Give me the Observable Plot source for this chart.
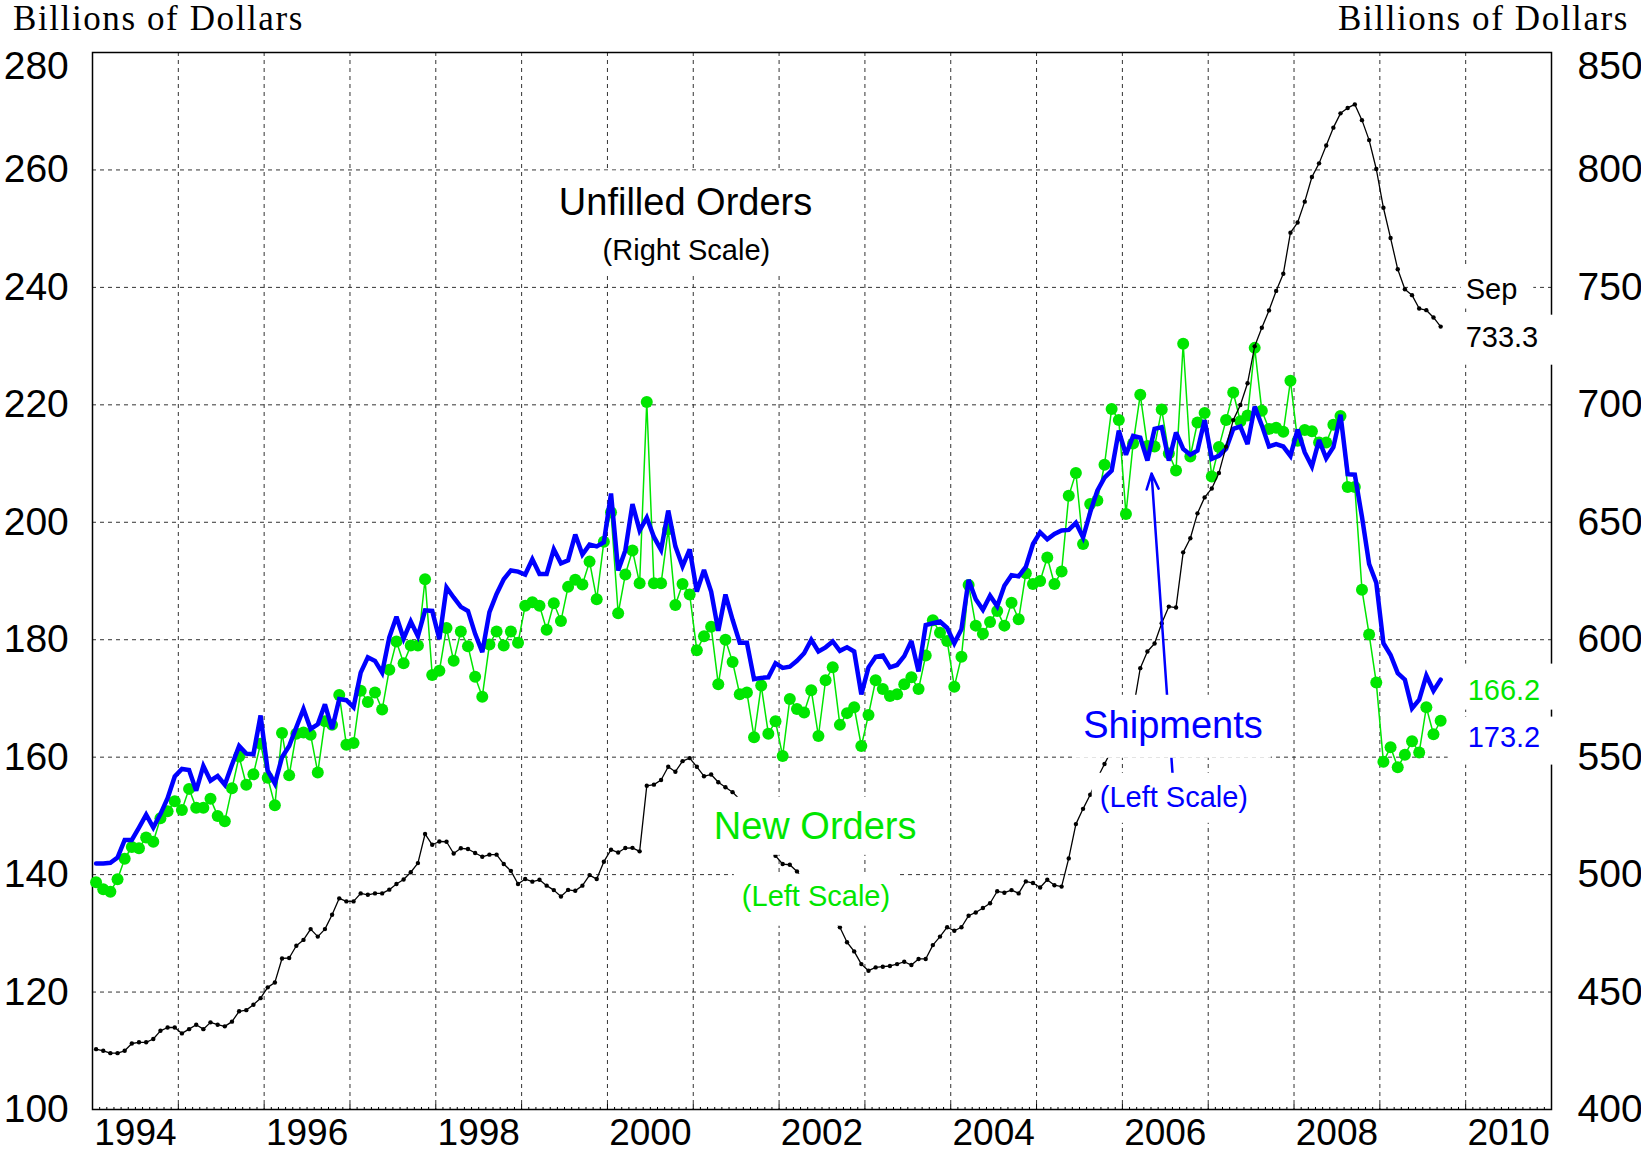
<!DOCTYPE html>
<html><head><meta charset="utf-8">
<script src="https://cdn.jsdelivr.net/npm/d3@7"></script>
<script src="https://cdn.jsdelivr.net/npm/@observablehq/plot@0.6"></script>
<style>
html, body { margin:0; padding:0; background:#fff; }
body { width:1641px; height:1156px; overflow:hidden; }
#header { position:relative; height:44px; font-family:"Liberation Serif","Times New Roman",serif; font-size:35px; color:#000; }
#header span { position:absolute; top:-1px; line-height:40px; letter-spacing:1.6px; white-space:nowrap; }
#hl { left:13px; } #hr { right:12px; }
svg { display:block; }
</style></head>
<body>
<div id="header"><span id="hl">Billions of Dollars</span><span id="hr">Billions of Dollars</span></div>
<div id="chart"></div>
<script>
// Monthly data, Jan 1994 - Sep 2009
const startYear = 1994;

// Shipments (left scale, billions of dollars)
const shipments = [
  141.9,141.9,142.0,142.9,145.9,145.9,148.0,150.2,148.0,150.3,153.0,156.7,
  158.0,157.8,154.3,158.5,156.0,156.8,155.3,158.7,161.9,160.6,160.5,167.1,
  157.7,155.5,160.0,161.9,165.1,168.2,164.8,165.6,169.0,164.8,169.9,169.7,
  168.5,174.4,177.0,176.4,174.4,180.4,183.9,180.2,183.1,180.6,185.0,184.9,
  180.1,188.9,187.2,185.6,184.9,181.0,177.9,184.7,187.8,190.3,191.8,191.6,
  191.1,193.7,191.2,191.2,195.4,193.0,193.5,197.9,194.5,196.2,195.9,196.6,
  204.9,191.8,195.2,203.1,198.6,200.8,197.5,195.3,202.0,195.9,192.5,195.4,
  188.2,191.9,188.2,181.5,187.7,183.4,179.5,179.5,173.3,173.5,173.6,176.0,
  175.2,175.4,176.4,177.7,180.0,178.0,178.7,179.7,178.1,178.7,178.0,170.7,
  175.3,177.1,177.3,175.3,175.7,177.2,179.8,174.6,182.5,182.8,183.1,182.0,
  179.4,181.8,190.2,186.9,185.1,187.5,185.7,189.2,191.0,190.8,192.4,196.3,
  198.3,197.1,198.0,198.6,198.7,199.9,197.4,201.7,205.4,207.6,208.8,215.6,
  211.5,214.7,214.4,210.5,215.9,216.2,210.5,215.3,212.5,211.5,212.2,217.4,
  210.8,211.3,212.5,215.9,216.3,213.3,219.7,216.5,212.9,213.3,212.9,211.3,
  215.8,211.9,209.5,214.0,210.9,212.8,218.3,208.2,208.1,200.9,192.9,189.7,
  179.4,177.4,174.3,173.2,168.3,169.8,173.9,171.3,173.2
];

// New orders (left scale)
const newOrders = [
  138.7,137.5,137.1,139.2,142.7,144.7,144.5,146.3,145.6,149.6,150.8,152.5,
  151.0,154.6,151.4,151.4,152.9,150.0,149.1,154.7,160.1,155.3,157.1,162.3,
  156.5,151.8,164.1,156.9,164.0,164.2,163.8,157.4,166.1,165.5,170.6,162.1,
  162.4,171.3,169.4,171.0,168.1,174.9,179.7,176.0,179.0,179.0,190.3,174.0,
  174.7,182.0,176.4,181.4,178.9,173.7,170.3,179.2,181.4,179.0,181.4,179.5,
  185.8,186.4,185.8,181.7,186.2,183.2,189.0,190.2,189.4,193.3,186.9,196.7,
  201.7,184.5,191.1,195.2,189.6,220.5,189.6,189.6,198.8,185.9,189.5,187.7,
  178.2,180.6,182.2,172.4,180.0,176.2,170.7,171.0,163.4,172.2,164.0,166.1,
  160.2,169.9,168.2,167.6,171.4,163.6,173.1,175.3,165.5,167.5,168.5,161.9,
  167.2,173.1,171.6,170.4,170.7,172.4,173.6,171.6,177.3,183.3,181.2,179.8,
  172.0,177.1,189.3,182.4,181.0,183.0,184.9,182.4,186.3,183.5,191.3,189.5,
  190.0,194.0,189.5,191.6,204.5,208.4,196.3,203.1,203.7,209.8,219.3,217.4,
  201.4,213.4,221.7,213.0,212.9,219.2,211.7,208.8,230.4,211.2,217.0,218.6,
  207.8,212.8,217.4,222.1,217.2,218.2,229.7,219.0,215.9,216.1,215.4,224.1,
  213.9,215.7,215.5,213.6,213.6,216.6,218.1,206.0,206.0,188.5,180.9,172.7,
  159.2,161.7,158.3,160.4,162.7,160.8,168.5,163.9,166.2
];

// Unfilled orders (right scale)
const unfilledOrders = [
  425.7,425.0,424.0,424.0,425.0,428.1,428.6,428.6,430.0,433.5,434.9,434.9,
  432.4,434.2,436.1,434.2,437.1,436.1,435.4,437.4,441.8,442.3,444.6,447.4,
  452.0,454.1,464.3,464.5,469.7,472.2,476.8,473.6,476.8,482.9,489.9,488.6,
  488.6,492.0,491.4,492.0,492.0,493.6,496.0,497.9,501.0,504.9,517.3,512.7,
  514.1,514.0,509.0,511.2,510.9,509.2,507.6,508.5,508.5,504.5,501.6,496.0,
  498.1,497.0,497.8,495.3,493.4,490.7,493.5,493.1,495.3,499.8,498.1,505.5,
  510.6,509.4,511.3,511.4,509.9,537.8,538.3,540.3,545.9,543.8,548.3,549.6,
  545.9,541.9,542.6,539.3,537.2,535.1,532.0,528.0,523.0,517.0,512.0,508.0,
  504.5,504.2,501.3,497.5,492.0,489.0,484.5,481.0,477.6,471.2,467.3,461.9,
  459.1,460.5,460.8,461.1,461.9,462.9,461.5,464.1,464.1,470.0,473.6,477.6,
  476.1,477.6,482.5,483.9,485.8,487.8,492.9,492.3,493.4,492.0,497.1,496.4,
  494.5,497.8,495.5,494.9,506.9,521.5,528.0,534.0,541.0,547.1,553.0,558.0,
  564.0,570.0,587.9,595.0,598.4,607.0,614.1,613.7,637.2,643.2,653.8,660.6,
  664.4,671.0,682.2,693.5,699.9,709.2,724.9,732.8,740.2,748.5,755.8,773.3,
  777.6,786.5,797.0,802.8,810.4,818.0,824.1,826.4,827.9,821.2,812.7,800.4,
  783.9,771.0,757.7,749.2,746.7,741.0,740.3,737.2,733.3
];

const leftTicks = [100,120,140,160,180,200,220,240,260,280];
const rightTicks = [400,450,500,550,600,650,700,750,800,850];
const yearLabels = [1994,1996,1998,2000,2002,2004,2006,2008,2010];

const GREEN = "#00e600", BLUE = "#0000ff", BLACK = "#000000";
const L0 = 100, L1 = 280, R0 = 400, R1 = 850;
const toLeft = u => L0 + (u - R0) * (L1 - L0) / (R1 - R0);

const rows = shipments.map((s, i) => ({
  t: startYear + (i + 0.5) / 12,
  ship: s,
  orders: newOrders[i],
  unfilled: toLeft(unfilledOrders[i])
}));

const W = 1641, H = 1112, mL = 92, mR = 90, mT = 8, mB = 47;
const ppu = (H - mT - mB) / (L1 - L0);
const x0 = 1994, x1 = 2011;

const months = d3.range(0, (x1 - x0) * 12 + 1).map(k => ({k, v: x0 + k / 12}));
const gridYears = d3.range(x0 + 1, x1);

const boxed = [];
function label(id, x, y, text, opts, pad) {
  boxed.push({id, pad});
  return Plot.text([{x, y, text}], {x: "x", y: "y", text: "text", ariaLabel: () => id, lineAnchor: "bottom", textAnchor: "middle", ...opts});
}

const chart = Plot.plot({
  width: W, height: H,
  marginLeft: mL, marginRight: mR, marginTop: mT, marginBottom: mB,
  x: {domain: [x0, x1], axis: null},
  y: {domain: [L0, L1], axis: null},
  style: {fontFamily: "'Liberation Sans', Arial, sans-serif", background: "#fff", color: "#000", overflow: "visible"},
  marks: [
    Plot.ruleY(leftTicks.filter(v => v > L0 && v < L1), {stroke: "#333", strokeWidth: 1, strokeDasharray: "4,4"}),
    Plot.ruleX(gridYears, {stroke: "#333", strokeWidth: 1, strokeDasharray: "4,4"}),
    Plot.ruleX(months.filter(d => d.k % 12 !== 0), {x: "v", y1: L0, y2: L0 + 2 / ppu, stroke: "#000", strokeWidth: 1}),
    Plot.ruleX(months.filter(d => d.k % 12 === 0), {x: "v", y1: L0, y2: L0 + 5 / ppu, stroke: "#000", strokeWidth: 1}),
    Plot.frame({stroke: "#000", strokeWidth: 1.5}),
    // New orders
    Plot.line(rows, {x: "t", y: "orders", stroke: GREEN, strokeWidth: 1.5}),
    Plot.dot(rows, {x: "t", y: "orders", r: 6, fill: GREEN, stroke: "none"}),
    // Shipments
    Plot.line(rows, {x: "t", y: "ship", stroke: BLUE, strokeWidth: 4.5, strokeLinejoin: "miter", strokeMiterlimit: 3}),
    // Unfilled orders (right scale)
    Plot.line(rows, {x: "t", y: "unfilled", stroke: BLACK, strokeWidth: 1.3}),
    Plot.dot(rows, {x: "t", y: "unfilled", r: 2.2, fill: BLACK, stroke: "none"}),
    // Arrow to shipments
    Plot.arrow([{}], {x1: 2006.59, y1: 156.0, x2: 2006.34, y2: 208.3, stroke: BLUE, strokeWidth: 2.5, headLength: 10, headAngle: 42}),
    // Annotations
    label("a-unf", 2000.91, 252.4, "Unfilled Orders", {fontSize: 38, fill: BLACK}, [10,10,10,10]),
    label("a-unf2", 2000.92, 244.7, "(Right Scale)", {fontSize: 29, fill: BLACK}, [10,6,10,10]),
    label("a-new", 2002.42, 146.1, "New Orders", {fontSize: 38, fill: GREEN}, [8,8,8,8]),
    label("a-new2", 2002.43, 134.7, "(Left Scale)", {fontSize: 29, fill: GREEN}, [8,6,8,14]),
    label("a-shp", 2006.59, 163.3, "Shipments", {fontSize: 38, fill: BLUE}, [8,9,8,12]),
    label("a-shp2", 2006.60, 151.55, "(Left Scale)", {fontSize: 29, fill: BLUE}, [8,8,8,10]),
    label("a-sep", 2010, 238.1, "Sep", {fontSize: 29, fill: BLACK, textAnchor: "start", dx: 0}, [5,6,16,4]),
    label("a-unfv", 2010, 229.9, "733.3", {fontSize: 29, fill: BLACK, textAnchor: "start", dx: 0}, [4,6,16,12]),
    label("a-newv", 2010, 169.8, "166.2", {fontSize: 29, fill: GREEN, textAnchor: "start", dx: 2}, [20,10,20,4]),
    label("a-shpv", 2010, 161.8, "173.2", {fontSize: 29, fill: BLUE, textAnchor: "start", dx: 2}, [20,4,20,12]),
    // Tick labels
    Plot.text(leftTicks.slice(0, -1), {x: x0, y: d => d, text: d => String(d), dx: -23.7, textAnchor: "end", lineAnchor: "middle", fontSize: 39, fill: "#000"}),
    Plot.text(leftTicks.slice(-1), {x: x0, y: d => d, text: d => String(d), dx: -23.7, dy: 14, textAnchor: "end", lineAnchor: "middle", fontSize: 39, fill: "#000"}),
    Plot.text(rightTicks.slice(0, -1), {x: x1, y: d => toLeft(d), text: d => String(d), dx: 26, textAnchor: "start", lineAnchor: "middle", fontSize: 39, fill: "#000"}),
    Plot.text(rightTicks.slice(-1), {x: x1, y: d => toLeft(d), text: d => String(d), dx: 26, dy: 14, textAnchor: "start", lineAnchor: "middle", fontSize: 39, fill: "#000"}),
    Plot.text(yearLabels, {x: d => d + 0.5, y: L0, text: d => String(d), dy: 24, textAnchor: "middle", lineAnchor: "middle", fontSize: 37, fill: "#000"})
  ]
});

document.getElementById("chart").appendChild(chart);
const svg = document.querySelector("#chart svg");
const NS = "http://www.w3.org/2000/svg";

// White boxes behind annotation labels
for (const {id, pad} of boxed) {
  svg.querySelectorAll(`text[aria-label="${id}"]`).forEach(t => {
    const b = t.getBBox();
    const r = document.createElementNS(NS, "rect");
    r.setAttribute("x", b.x - pad[0]);
    r.setAttribute("y", b.y - pad[1]);
    r.setAttribute("width", b.width + pad[0] + pad[2]);
    r.setAttribute("height", b.height + pad[1] + pad[3]);
    r.setAttribute("fill", "#fff");
    r.setAttribute("stroke", "none");
    const tr = t.getAttribute("transform");
    if (tr) r.setAttribute("transform", tr);
    t.parentNode.insertBefore(r, t);
  });
}
</script>
</body></html>
